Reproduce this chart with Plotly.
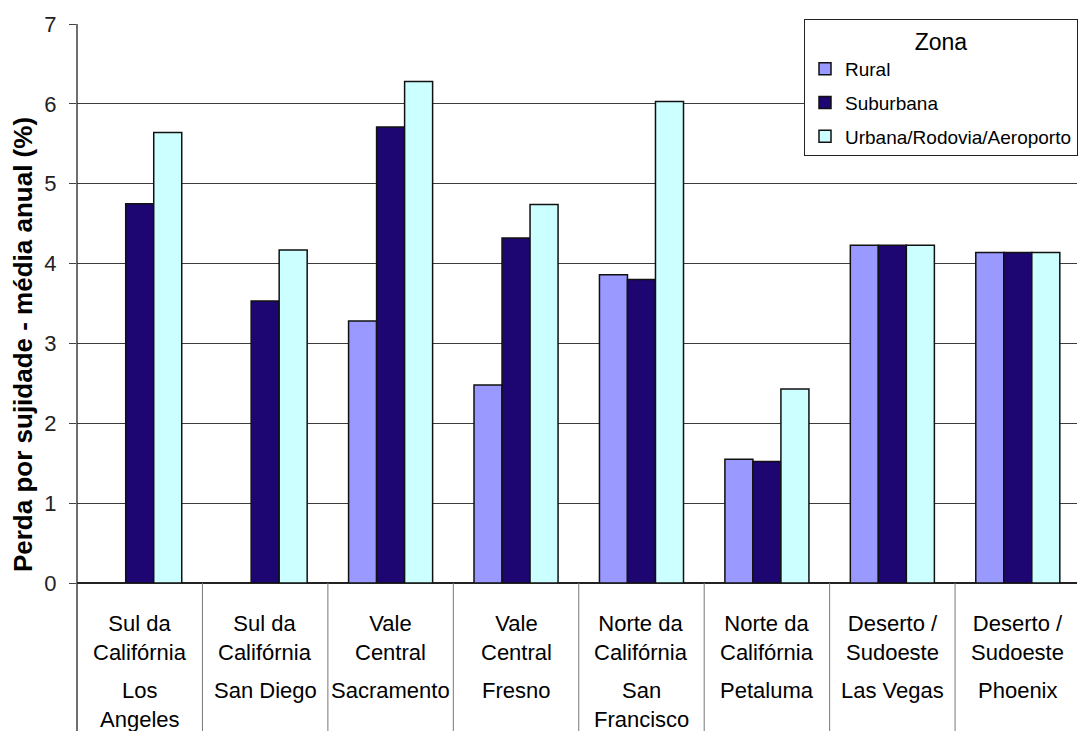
import plotly.graph_objects as go

# Soiling loss by site and zone (annual mean, %)
cities = ["Los<br>Angeles", "San Diego", "Sacramento", "Fresno",
          "San<br>Francisco", "Petaluma", "Las Vegas", "Phoenix"]
regions = ["Sul da<br>Califórnia", "Sul da<br>Califórnia", "Vale<br>Central", "Vale<br>Central",
           "Norte da<br>Califórnia", "Norte da<br>Califórnia", "Deserto /<br>Sudoeste", "Deserto /<br>Sudoeste"]

rural = [None, None, 3.28, 2.48, 3.86, 1.55, 4.23, 4.14]
suburbana = [4.75, 3.53, 5.71, 4.32, 3.80, 1.52, 4.23, 4.14]
urbana = [5.64, 4.17, 6.28, 4.74, 6.03, 2.43, 4.23, 4.14]

series_names = ["Rural", "Suburbana", "Urbana/Rodovia/Aeroporto"]
series_values = [rural, suburbana, urbana]
series_colors = ["#9999FF", "#1D0672", "#CCFFFF"]

FONT = "Liberation Sans, Arial, sans-serif"
W, H = 1078, 731
M_L, M_R, M_T, M_B = 77, 0, 24, 148
PLOT_H = H - M_T - M_B


def py_to_paper(py):
    """Convert a pixel row of the page into a paper y coordinate."""
    return (H - M_B - py) / PLOT_H


fig = go.Figure()
for i, (name, vals, col) in enumerate(zip(series_names, series_values, series_colors)):
    fig.add_trace(go.Bar(
        x=cities, y=vals, name=name, legendgroup=f"g{i}",
        marker=dict(color=col, line=dict(color="#111111", width=1.5)),
    ))

# two-level category labels under the axis
annotations = []
for city, region in zip(cities, regions):
    annotations.append(dict(
        x=city, xref="x", y=py_to_paper(638), yref="paper",
        text=region, showarrow=False, xanchor="center", yanchor="middle",
        font=dict(family=FONT, size=22, color="#000000"), align="center",
    ))
    annotations.append(dict(
        x=city, xref="x", y=py_to_paper(676), yref="paper",
        text=city, showarrow=False, xanchor="center", yanchor="top",
        font=dict(family=FONT, size=22, color="#000000"), align="center",
    ))

# y-axis title
annotations.append(dict(
    x=(23 - M_L) / (W - M_L - M_R), xref="paper", y=py_to_paper(345), yref="paper",
    text="<b>Perda por sujidade - média anual (%)</b>", textangle=-90,
    showarrow=False, xanchor="center", yanchor="middle",
    font=dict(family=FONT, size=26, color="#000000"),
))

bottom = py_to_paper(H)
shapes = []
# separators between category columns in the label area
for k in range(len(cities) - 1):
    shapes.append(dict(type="line", xref="x", yref="paper",
                       x0=k + 0.5, x1=k + 0.5, y0=0, y1=bottom,
                       line=dict(color="#777777", width=1)))
# value axis line running down through the label area
shapes.append(dict(type="line", xref="paper", yref="paper",
                   x0=0, x1=0, y0=1, y1=bottom,
                   line=dict(color="#222222", width=1.3)))

fig.update_layout(
    width=W, height=H,
    margin=dict(l=M_L, r=M_R, t=M_T, b=M_B),
    paper_bgcolor="white", plot_bgcolor="white",
    bargap=0.33, barmode="group",
    font=dict(family=FONT, color="#000000"),
    xaxis=dict(range=[-0.5, 7.472], showticklabels=False, showgrid=False,
               ticks="", showline=False, zeroline=False, fixedrange=True),
    yaxis=dict(range=[0, 7], dtick=1, showgrid=True, gridcolor="#3c3c3c", gridwidth=1.2,
               zeroline=True, zerolinecolor="#222222", zerolinewidth=1.5,
               ticks="outside", ticklen=7, tickcolor="#444444", tickwidth=1.2,
               ticklabelstandoff=8,
               tickfont=dict(family=FONT, size=22, color="#222222"),
               showline=False),
    legend=dict(
        x=(805 - M_L) / (W - M_L - M_R), xanchor="left",
        y=py_to_paper(19), yanchor="top",
        bgcolor="white", bordercolor="#222222", borderwidth=1,
        font=dict(family=FONT, size=19, color="#000000"),
        title=dict(text="Zona", side="top center", font=dict(family=FONT, size=23)),
        tracegroupgap=6, traceorder="grouped", itemwidth=30,
    ),
    annotations=annotations, shapes=shapes,
    showlegend=True,
)

fig.write_html("out.html")
